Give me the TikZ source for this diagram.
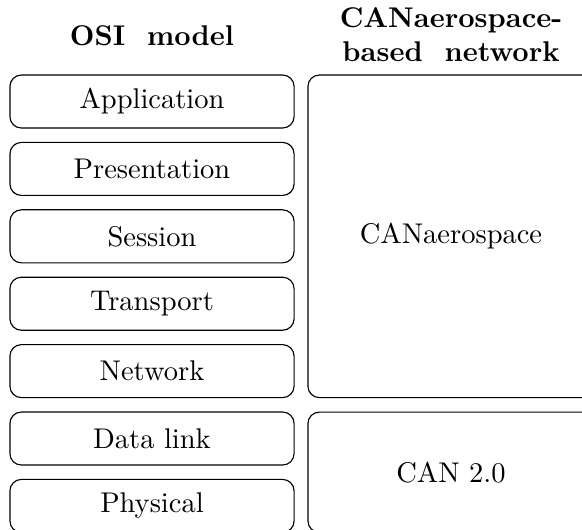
\documentclass[tikz,border=0pt]{standalone}
\begin{document}
\begin{tikzpicture}[
  x=0.3509pt, y=-0.3509pt,
  osilayer/.style={draw, rounded corners=4pt, inner sep=0pt,
    minimum width=99.7pt, minimum height=18.6pt},
  canlayer/.style={draw, rounded corners=4pt, inner sep=0pt,
    minimum width=100.4pt},
  header/.style={font=\bfseries, align=center, inner sep=0pt}
]
\useasboundingbox (0,0) rectangle (582,529);
\clip (0,0) rectangle (582,529);

% column headings
\node[header, anchor=base] (osihead) at (152,45) {OSI\ \ model};
\node[header] (canhead) at (451,35) {CANaerospace-\\based\ \ network};

% OSI reference model layers
\node[osilayer] (app)  at (152,101.5) {Application};
\node[osilayer] (pres) at (152,168.9) {Presentation};
\node[osilayer] (sess) at (152,236.3) {Session};
\node[osilayer] (trans) at (152,303.7) {Transport};
\node[osilayer] (net)  at (152,371.1) {Network};
\node[osilayer] (dl)   at (152,438.5) {Data link};
\node[osilayer] (phy)  at (152,505.9) {Physical};

% CANaerospace network stack
\node[canlayer, minimum height=113.2pt] (canaero) at (451,236.3) {CANaerospace};
\node[canlayer, minimum height=42.2pt] (can20) at (451,472.2) {CAN 2.0};
\end{tikzpicture}
\end{document}
